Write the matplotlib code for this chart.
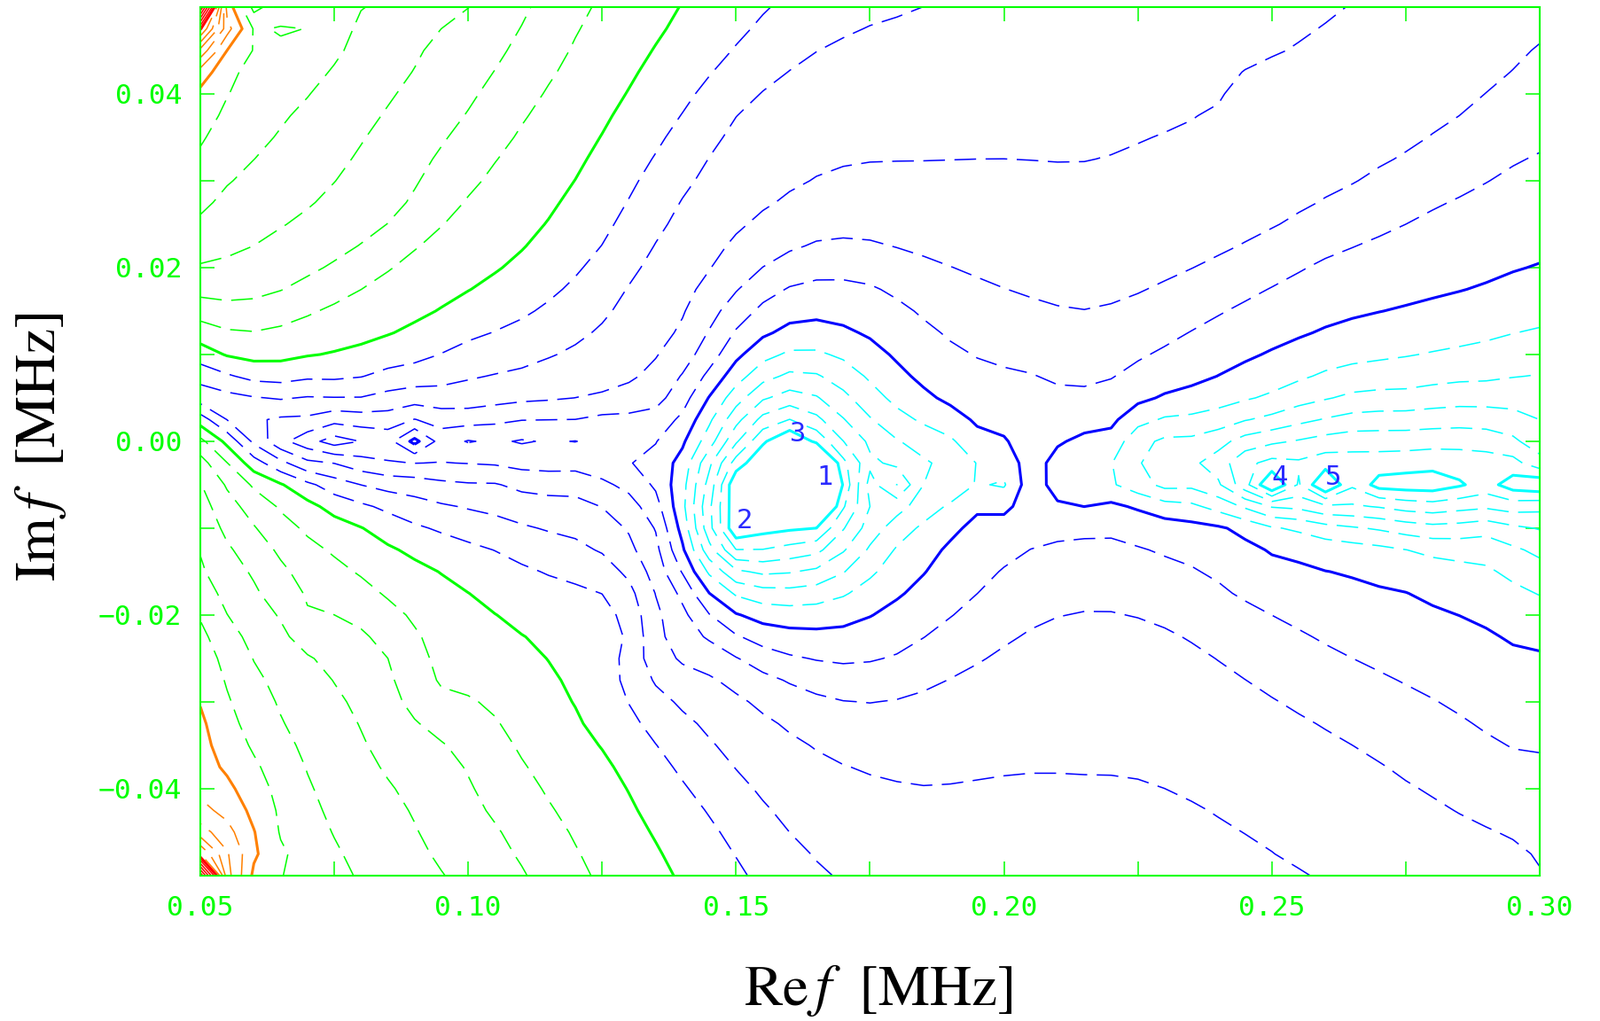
import numpy as np
import matplotlib
matplotlib.use("Agg")
import matplotlib.pyplot as plt

plt.rcParams['mathtext.fontset'] = 'stix'

GREEN = '#00ff00'
LEVEL_COLORS = ['#00ffff', '#0000ff', '#00ff00', '#ff8000', '#ff0000']

# mesh on which |D(f)| was sampled, MHz
re_grid = np.linspace(0.05, 0.30, 51)
im_grid = np.linspace(-0.05, 0.05, 41)

# labelled roots
root_re = [0.165, 0.150, 0.160, 0.250, 0.260]
root_im = [-0.005, -0.010, 0.000, -0.005, -0.005]
root_tag = ["1", "2", "3", "4", "5"]

# unlabelled roots right of root 5, and shallow dips along the trench
cluster_re = [0.270, 0.275, 0.280, 0.285, 0.295, 0.300]
cluster_im = [-0.005] * 6
shallow_re = [0.075, 0.090, 0.180, 0.200]
shallow_im = [0.000, 0.000, -0.005, -0.005]

# poles outside the left corners
pole_re = [0.0485, 0.0350, 0.0485, 0.0350]
pole_im = [0.0515, 0.0650, -0.0515, -0.0650]

# path of the dense row of roots and the nodes of its density profile
trench_re = [-0.20, 0.05, 0.065, 0.135, 0.15, 1.20]
trench_im = [0.006, 0.005, 0.000, 0.000, -0.005, -0.005]
density_re = [-0.20, -0.10, 0.00, 0.05, 0.07, 0.09, 0.11, 0.13, 0.15, 0.17, 0.19, 0.21, 0.23,
              0.25, 0.27, 0.29, 0.31, 0.35, 0.40, 0.50, 0.65, 0.85, 1.20]

# contour lines, level index: 0 = blue solid, step 1/6
cyan_solid = [(0.1602, 0.0013), (0.1552, 0.0000), (0.1524, -0.0025), (0.1499, -0.0030), (0.1480, -0.0051),
              (0.1480, -0.0101), (0.1503, -0.0116), (0.1552, -0.0105), (0.1602, -0.0101), (0.1652, -0.0103),
              (0.1678, -0.0077), (0.1703, -0.0050), (0.1698, -0.0040), (0.1678, -0.0020), (0.1648, -0.0002),
              (0.2686, -0.0048), (0.2763, -0.0041), (0.2859, -0.0049), (0.2763, -0.0053),
              (0.2922, -0.0049), (0.2949, -0.0036), (0.2957, -0.0056)]
cyan_1 = [(0.1571, 0.0100), (0.1637, 0.0105), (0.1703, 0.0093), (0.1753, 0.0066), (0.1802, 0.0036),
          (0.1869, 0.0013), (0.1908, 0.0008), (0.1925, -0.0012), (0.1925, -0.0053), (0.1891, -0.0073),
          (0.1830, -0.0101), (0.1792, -0.0124), (0.1736, -0.0165), (0.1698, -0.0179), (0.1653, -0.0186),
          (0.1604, -0.0188), (0.1554, -0.0186), (0.1504, -0.0179), (0.1471, -0.0165), (0.1445, -0.0148),
          (0.1422, -0.0128), (0.1414, -0.0104), (0.1405, -0.0081), (0.1408, -0.0053), (0.1422, -0.0015),
          (0.1450, 0.0021), (0.1483, 0.0052), (0.1516, 0.0072),
          (0.2226, -0.0001), (0.2249, 0.0017), (0.2303, 0.0027), (0.2399, 0.0036), (0.2495, 0.0054),
          (0.2591, 0.0080), (0.2768, 0.0100), (0.2861, 0.0110), (0.2927, 0.0120), (0.3000, 0.0131),
          (0.2226, -0.0038), (0.2233, -0.0054), (0.2277, -0.0057), (0.2366, -0.0067), (0.2462, -0.0085),
          (0.2558, -0.0101), (0.2641, -0.0112), (0.2696, -0.0117), (0.2752, -0.0124), (0.2806, -0.0132),
          (0.2861, -0.0138), (0.2917, -0.0148), (0.2960, -0.0165), (0.3000, -0.0178)]
cyan_2 = [(0.2259, 0.0004), (0.2386, 0.0008), (0.2489, 0.0027), (0.2596, 0.0046), (0.2750, 0.0058),
          (0.2911, 0.0068), (0.3000, 0.0078), (0.2259, -0.0044), (0.2277, -0.0054), (0.2335, -0.0059),
          (0.2399, -0.0067), (0.2462, -0.0077), (0.2526, -0.0088), (0.2911, -0.0104), (0.2972, -0.0128),
          (0.3000, -0.0135), (0.1427, -0.0050), (0.1648, 0.0079), (0.1549, -0.0167), (0.1433, -0.0111),
          (0.1466, 0.0001), (0.1891, -0.0046)]
cyan_3 = [(0.1445, -0.0050), (0.3000, 0.0027), (0.3000, -0.0103)]
cyan_4 = [(0.1463, -0.0050), (0.3000, -0.0020), (0.3000, -0.0080)]
blue_solid = [(0.1650, 0.0139), (0.1602, 0.0135), (0.1552, 0.0118), (0.1499, 0.0093), (0.1450, 0.0052),
              (0.1417, 0.0008), (0.1387, -0.0036), (0.1388, -0.0087), (0.1417, -0.0148), (0.1450, -0.0179),
              (0.1499, -0.0199), (0.1582, -0.0213), (0.1653, -0.0215), (0.1752, -0.0201), (0.1852, -0.0155),
              (0.1941, -0.0087), (0.1951, -0.0073), (0.2001, -0.0084), (0.2037, -0.0053), (0.2040, -0.0012),
              (0.2001, 0.0013), (0.1951, 0.0005), (0.1924, 0.0029), (0.1891, 0.0042), (0.1780, 0.0103),
              (0.1703, 0.0131),
              (0.2112, 0.0001), (0.2078, -0.0026), (0.2073, -0.0050), (0.2095, -0.0063), (0.2150, 0.0012),
              (0.2201, 0.0006), (0.2224, 0.0028), (0.2249, 0.0041), (0.2303, 0.0054), (0.2335, 0.0059),
              (0.2411, 0.0080), (0.2476, 0.0100), (0.2558, 0.0120), (0.2641, 0.0139), (0.2752, 0.0156),
              (0.2861, 0.0174), (0.2917, 0.0185), (0.3000, 0.0205), (0.2201, -0.0062), (0.2230, -0.0072),
              (0.2303, -0.0085), (0.2413, -0.0096), (0.2454, -0.0117), (0.2504, -0.0134), (0.2530, -0.0138),
              (0.2613, -0.0157), (0.2696, -0.0170), (0.2806, -0.0193), (0.2917, -0.0219), (0.3000, -0.0242)]
blue_1 = [(0.1450, -0.0206), (0.1499, -0.0223), (0.1549, -0.0237), (0.1615, -0.0249), (0.1698, -0.0257),
          (0.1752, -0.0254), (0.1809, -0.0244), (0.1863, -0.0220), (0.1946, -0.0179), (0.2000, -0.0145),
          (0.2040, -0.0128), (0.2145, -0.0109), (0.2199, -0.0111), (0.2249, -0.0122), (0.2299, -0.0135),
          (0.2348, -0.0145), (0.2393, -0.0162), (0.2447, -0.0183), (0.2530, -0.0209), (0.2641, -0.0247),
          (0.2752, -0.0281), (0.2861, -0.0319), (0.3000, -0.0362),
          (0.2266, 0.0100), (0.2365, 0.0134), (0.2476, 0.0171), (0.2586, 0.0209), (0.2696, 0.0236),
          (0.2806, 0.0270), (0.2917, 0.0304), (0.3000, 0.0335),
          (0.2112, 0.0062), (0.2057, 0.0080), (0.1974, 0.0090), (0.1918, 0.0108), (0.1863, 0.0134),
          (0.1814, 0.0159), (0.1752, 0.0182), (0.1693, 0.0187), (0.1653, 0.0187), (0.1599, 0.0179),
          (0.1549, 0.0161), (0.1504, 0.0134), (0.1471, 0.0100), (0.1422, 0.0059), (0.1395, 0.0029),
          (0.1380, 0.0017), (0.1350, 0.0013), (0.1284, 0.0010),
          (0.1284, -0.0019), (0.1317, -0.0033), (0.1339, -0.0050), (0.1356, -0.0066), (0.1367, -0.0087),
          (0.1378, -0.0117), (0.1400, -0.0152), (0.1428, -0.0179), (0.1466, -0.0199),
          (0.0715, 0.0005), (0.0760, 0.0006), (0.0810, 0.0005), (0.0699, -0.0002), (0.0748, -0.0007),
          (0.0810, -0.0007), (0.0859, 0.0000), (0.0897, 0.0013), (0.0935, 0.0005), (0.0897, -0.0015)]
blue_2 = [(0.1814, 0.0219), (0.1748, 0.0231), (0.1698, 0.0233), (0.1648, 0.0230), (0.1599, 0.0217),
          (0.1554, 0.0202), (0.1516, 0.0182), (0.1483, 0.0158), (0.1450, 0.0131), (0.1428, 0.0100),
          (0.1389, 0.0069), (0.1372, 0.0042), (0.1345, 0.0032), (0.1301, 0.0029),
          (0.1200, 0.0022), (0.1000, 0.0018), (0.0800, 0.0016), (0.0677, 0.0000),
          (0.0800, -0.0015), (0.1000, -0.0022), (0.1200, -0.0030),
          (0.2145, 0.0151), (0.2199, 0.0158), (0.2255, 0.0171), (0.2338, 0.0195), (0.2421, 0.0219),
          (0.2530, 0.0253), (0.2641, 0.0291), (0.2752, 0.0332), (0.2861, 0.0379), (0.2944, 0.0423),
          (0.3000, 0.0464),
          (0.1450, -0.0227), (0.1499, -0.0247), (0.1549, -0.0264), (0.1615, -0.0281), (0.1698, -0.0298),
          (0.1747, -0.0301), (0.1809, -0.0295), (0.1863, -0.0283), (0.1918, -0.0267), (0.1974, -0.0247),
          (0.2029, -0.0223), (0.2084, -0.0206), (0.2156, -0.0196), (0.2222, -0.0198), (0.2310, -0.0216),
          (0.2365, -0.0237), (0.2476, -0.0285), (0.2586, -0.0326), (0.2696, -0.0366), (0.2806, -0.0410),
          (0.2917, -0.0448), (0.3000, -0.0489),
          (0.1284, -0.0050), (0.1326, -0.0073), (0.1350, -0.0097), (0.1362, -0.0124), (0.1378, -0.0155),
          (0.1412, -0.0189)]
blue_3 = [(0.1814, 0.0322), (0.1769, 0.0322), (0.1703, 0.0316), (0.1648, 0.0304), (0.1604, 0.0287),
          (0.1554, 0.0266), (0.1521, 0.0250), (0.1483, 0.0226), (0.1450, 0.0195), (0.1417, 0.0164),
          (0.1395, 0.0131), (0.1372, 0.0110), (0.1334, 0.0087), (0.1289, 0.0062), (0.1245, 0.0052),
          (0.1190, 0.0049), (0.1134, 0.0044), (0.1079, 0.0042), (0.1024, 0.0034), (0.0968, 0.0029),
          (0.0831, 0.0024), (0.0700, 0.0022), (0.0620, 0.0015),
          (0.0750, -0.0022), (0.0900, -0.0035), (0.1050, -0.0045), (0.1200, -0.0060),
          (0.2145, 0.0321), (0.2244, 0.0342), (0.2338, 0.0368), (0.2421, 0.0396), (0.2504, 0.0437),
          (0.2586, 0.0474), (0.2636, 0.0500),
          (0.1284, -0.0094), (0.1306, -0.0121), (0.1329, -0.0155), (0.1350, -0.0189), (0.1355, -0.0237),
          (0.1450, -0.0267), (0.1700, -0.0372), (0.1847, -0.0397), (0.2000, -0.0385), (0.2145, -0.0385),
          (0.2255, -0.0390), (0.2310, -0.0403), (0.2365, -0.0420), (0.2421, -0.0439), (0.2476, -0.0461),
          (0.2530, -0.0484), (0.2570, -0.0500)]
blue_4 = [(0.1157, 0.0100), (0.1207, 0.0117), (0.1256, 0.0141), (0.1284, 0.0168), (0.1317, 0.0199),
          (0.1350, 0.0230), (0.1388, 0.0270), (0.1428, 0.0307), (0.1466, 0.0344), (0.1504, 0.0378),
          (0.1554, 0.0406), (0.1615, 0.0434), (0.1670, 0.0457), (0.1737, 0.0477), (0.1814, 0.0491),
          (0.1850, 0.0500), (0.1063, 0.0082), (0.0984, 0.0072), (0.0850, 0.0062), (0.0700, 0.0055),
          (0.0611, 0.0052), (0.0566, 0.0059), (0.0528, 0.0062),
          (0.0505, 0.0039), (0.0533, 0.0032), (0.0566, 0.0015), (0.0594, -0.0002), (0.0627, -0.0014),
          (0.0665, -0.0024), (0.0720, -0.0036), (0.0776, -0.0046), (0.0831, -0.0053), (0.0886, -0.0063),
          (0.0941, -0.0070), (0.0996, -0.0078), (0.1051, -0.0087), (0.1107, -0.0097), (0.1162, -0.0107),
          (0.1206, -0.0114), (0.1245, -0.0128), (0.1284, -0.0145), (0.1311, -0.0165),
          (0.1450, -0.0342), (0.1483, -0.0366), (0.1516, -0.0390), (0.1549, -0.0413), (0.1582, -0.0438),
          (0.1615, -0.0461), (0.1648, -0.0482), (0.1670, -0.0495)]
blue_5 = [(0.0953, 0.0103), (0.1020, 0.0120), (0.1081, 0.0134), (0.1135, 0.0154), (0.1185, 0.0179),
          (0.1218, 0.0202), (0.1251, 0.0226), (0.1284, 0.0261), (0.1317, 0.0298), (0.1355, 0.0336),
          (0.1395, 0.0373), (0.1438, 0.0410), (0.1494, 0.0451), (0.1537, 0.0482), (0.1566, 0.0500),
          (0.0505, 0.0088), (0.0533, 0.0078), (0.0555, 0.0077), (0.0599, 0.0067), (0.0665, 0.0066),
          (0.0748, 0.0069), (0.0831, 0.0077), (0.0919, 0.0090),
          (0.0500, 0.0030), (0.0600, -0.0025), (0.0750, -0.0065), (0.0900, -0.0095), (0.1050, -0.0125),
          (0.1200, -0.0165), (0.1300, -0.0220),
          (0.1450, -0.0431), (0.1472, -0.0451), (0.1494, -0.0474), (0.1516, -0.0492)]
green_solid = [(0.0500, 0.0113), (0.0546, 0.0097), (0.0603, 0.0090), (0.0657, 0.0091), (0.0776, 0.0107),
               (0.0831, 0.0117), (0.0909, 0.0139), (0.0953, 0.0154), (0.1020, 0.0180), (0.1086, 0.0210),
               (0.1147, 0.0253), (0.1223, 0.0324), (0.1284, 0.0389), (0.1350, 0.0457), (0.1395, 0.0500),
               (0.0500, 0.0023), (0.0550, -0.0002), (0.0599, -0.0026), (0.0649, -0.0046), (0.0699, -0.0063),
               (0.0748, -0.0081), (0.0798, -0.0097), (0.0847, -0.0117), (0.0914, -0.0138), (0.0985, -0.0167),
               (0.1084, -0.0214), (0.1140, -0.0250), (0.1178, -0.0281), (0.1273, -0.0372), (0.1360, -0.0471),
               (0.1384, -0.0500)]
green_7 = [(0.0500, 0.0141), (0.0535, 0.0131), (0.0584, 0.0128), (0.0644, 0.0134), (0.0694, 0.0144),
           (0.0743, 0.0158), (0.0788, 0.0171), (0.0838, 0.0192), (0.0899, 0.0222), (0.0953, 0.0250),
           (0.0986, 0.0273), (0.1020, 0.0297), (0.1053, 0.0324), (0.1086, 0.0352), (0.1119, 0.0383),
           (0.1152, 0.0413), (0.1185, 0.0447), (0.1213, 0.0481), (0.1230, 0.0500),
           (0.0649, -0.0084), (0.0682, -0.0101), (0.0720, -0.0121), (0.0760, -0.0137), (0.0803, -0.0159),
           (0.0848, -0.0183), (0.0886, -0.0202), (0.0926, -0.0267), (0.0953, -0.0291), (0.1014, -0.0291),
           (0.1047, -0.0315), (0.1085, -0.0352), (0.1125, -0.0390), (0.1163, -0.0428), (0.1208, -0.0472),
           (0.1225, -0.0500)]
green_8 = [(0.0500, 0.0164), (0.0551, 0.0159), (0.0601, 0.0163), (0.0656, 0.0174), (0.0710, 0.0192),
           (0.0766, 0.0212), (0.0821, 0.0236), (0.0876, 0.0263), (0.0953, 0.0342), (0.0986, 0.0368),
           (0.1020, 0.0399), (0.1053, 0.0430), (0.1086, 0.0460), (0.1114, 0.0498),
           (0.0698, -0.0206), (0.0753, -0.0196), (0.0809, -0.0218), (0.0859, -0.0257), (0.0898, -0.0318),
           (0.0959, -0.0347), (0.0997, -0.0380), (0.1030, -0.0424), (0.1068, -0.0451), (0.1102, -0.0492)]
green_9 = [(0.0500, 0.0206), (0.0540, 0.0209), (0.0584, 0.0219), (0.0622, 0.0236), (0.0677, 0.0256),
           (0.0733, 0.0287), (0.0788, 0.0332), (0.0842, 0.0379), (0.0899, 0.0427), (0.0953, 0.0478),
           (0.0522, -0.0087), (0.0550, -0.0114), (0.0583, -0.0138), (0.0621, -0.0183), (0.0654, -0.0203),
           (0.0698, -0.0240), (0.0748, -0.0278), (0.0786, -0.0311), (0.0814, -0.0352), (0.0842, -0.0383),
           (0.0875, -0.0407), (0.0902, -0.0441), (0.0942, -0.0485), (0.0952, -0.0500)]
green_10 = [(0.0512, 0.0270), (0.0545, 0.0291), (0.0584, 0.0314), (0.0622, 0.0338), (0.0656, 0.0365),
            (0.0700, 0.0396), (0.0743, 0.0430), (0.0788, 0.0495),
            (0.0505, -0.0152), (0.0533, -0.0179), (0.0555, -0.0206), (0.0583, -0.0234), (0.0604, -0.0260),
            (0.0632, -0.0288), (0.0649, -0.0315), (0.0670, -0.0342), (0.0694, -0.0373), (0.0710, -0.0400),
            (0.0727, -0.0424), (0.0748, -0.0455), (0.0765, -0.0479), (0.0781, -0.0500)]
green_11 = [(0.0500, 0.0340), (0.0560, 0.0400), (0.0620, 0.0460), (0.0660, 0.0500),
            (0.0505, -0.0213), (0.0533, -0.0250), (0.0550, -0.0288), (0.0570, -0.0332),
            (0.0596, -0.0356), (0.0636, -0.0413), (0.0641, -0.0458), (0.0677, -0.0500)]
orange_solid = [(0.0500, 0.0413), (0.0523, 0.0427), (0.0540, 0.0449), (0.0550, 0.0500),
                (0.0500, -0.0308), (0.0522, -0.0332), (0.0530, -0.0372), (0.0561, -0.0392), (0.0583, -0.0422),
                (0.0604, -0.0449), (0.0596, -0.0500)]
red_solid = [(0.0500, 0.0470), (0.0518, 0.0483), (0.0526, 0.0500),
             (0.0500, -0.0480), (0.0513, -0.0487), (0.0522, -0.0500)]

traces = [(-6, cyan_solid), (-1, cyan_1), (-2, cyan_2), (-3, cyan_3), (-4, cyan_4),
          (0, blue_solid), (1, blue_1), (2, blue_2), (3, blue_3), (4, blue_4), (5, blue_5),
          (6, green_solid), (7, green_7), (8, green_8), (9, green_9), (10, green_10), (11, green_11),
          (12, orange_solid), (18, red_solid)]

# values read at single mesh nodes (small loops, trench floor, frame edges, corners)
node_pts = [(0.245, -0.005, -4.8), (0.250, -0.005, -7.0), (0.255, -0.005, -5.0), (0.260, -0.005, -7.0),
            (0.265, -0.005, -5.3), (0.270, -0.005, -6.3), (0.275, -0.005, -6.6), (0.280, -0.005, -6.6),
            (0.285, -0.005, -6.1), (0.290, -0.005, -5.6), (0.295, -0.005, -6.5), (0.300, -0.005, -6.8),
            (0.180, -0.005, -4.0), (0.190, -0.005, -1.8), (0.195, -0.005, -0.9), (0.200, -0.005, -1.2),
            (0.210, -0.005, -0.49), (0.215, -0.005, -0.7), (0.220, -0.005, -0.95),
            (0.225, -0.005, -1.6), (0.230, -0.005, -2.3), (0.205, 0.000, 0.5), (0.205, -0.0075, 0.5),
            (0.090, 0.000, -0.3), (0.075, 0.000, 0.6), (0.080, 0.000, 0.9), (0.100, 0.000, 0.8),
            (0.110, 0.000, 0.9), (0.120, 0.000, 0.9), (0.070, 0.000, 1.4), (0.065, 0.000, 2.2),
            (0.050, 0.005, 3.4), (0.050, 0.050, 24.0), (0.050, -0.050, 24.0),
            (0.170, 0.050, 4.4), (0.200, 0.050, 3.6), (0.220, 0.050, 3.4), (0.240, 0.050, 3.2),
            (0.280, 0.050, 2.6), (0.300, 0.050, 2.3), (0.200, 0.040, 3.2), (0.250, 0.040, 2.6),
            (0.200, -0.050, 3.5), (0.220, -0.050, 3.4), (0.240, -0.050, 3.2), (0.280, -0.050, 2.5),
            (0.300, -0.050, 2.05), (0.180, -0.045, 3.4), (0.230, -0.045, 3.2), (0.270, -0.045, 2.4)]
# the saddle between the two basins, held tighter
saddle_pts = [(0.205, -0.005, 0.6), (0.205, -0.0025, 0.45)]

# distances measured on the page, so the two axes count alike
KX, KY = 6.044, 9.8


def to_plane(re, im):
    return (np.asarray(re, float) - 0.05) * KX, np.asarray(im, float) * KY


def logdist(X, Y, sx, sy, eps):
    return 0.5 * np.log10((X[:, None] - sx[None, :]) ** 2 + (Y[:, None] - sy[None, :]) ** 2 + eps ** 2)


row_re = np.arange(-0.20, 1.2001, 0.005)
row_im = np.interp(row_re, trench_re, trench_im)
ring_t = np.linspace(0, 2 * np.pi, 24, endpoint=False)
ring_x = 0.755 + 1.40 * np.cos(ring_t)
ring_y = 1.10 * np.sin(ring_t)


def basis(re, im):
    X, Y = to_plane(re, im)
    cols = []
    for zr, zi in ((root_re, root_im), (cluster_re, cluster_im), (shallow_re, shallow_im)):
        sx, sy = to_plane(zr, zi)
        cols.append(logdist(X, Y, sx, sy, 0.008))
    sx, sy = to_plane(row_re, row_im)
    L = logdist(X, Y, sx, sy, 0.012)
    for h in np.eye(len(density_re)):
        cols.append((L * np.interp(row_re, density_re, h)[None, :]).sum(1, keepdims=True))
    sx, sy = to_plane(pole_re, pole_im)
    cols.append(logdist(X, Y, sx, sy, 0.003))
    cols.append(logdist(X, Y, ring_x, ring_y, 0.0))
    cols.append(np.ones((len(X), 1)))
    return np.hstack(cols)


def tps(r):
    with np.errstate(divide='ignore', invalid='ignore'):
        v = r ** 2 * np.log(r)
    return np.nan_to_num(v)


p_re, p_im, p_lv, p_w = [], [], [], []
for lv, pts in traces:
    for a, b in pts:
        p_re.append(a); p_im.append(b); p_lv.append(lv); p_w.append(1.0)
for group, w in ((node_pts, 2.0), (saddle_pts, 5.0)):
    for a, b, lv in group:
        p_re.append(a); p_im.append(b); p_lv.append(lv); p_w.append(w)
p_w = np.array(p_w)
p_lv = np.array(p_lv, float)

# smooth root/pole model first ...
A = basis(p_re, p_im)
scale = A.std(0)
scale[scale == 0] = 1.0
lam = 1e-4
reg = np.sqrt(lam) * np.eye(A.shape[1])
reg[-1, -1] = 0.0
coef = np.linalg.lstsq(np.vstack([A / scale * p_w[:, None], reg]),
                       np.concatenate([p_lv * p_w, np.zeros(A.shape[1])]), rcond=None)[0] / scale

# ... then a smoothing thin-plate spline through what is left over
Xp, Yp = to_plane(p_re, p_im)
resid = p_lv - A @ coef
n = len(Xp)
K = tps(np.hypot(Xp[:, None] - Xp[None, :], Yp[:, None] - Yp[None, :])) + np.diag(4e-4 / p_w ** 2)
P = np.column_stack([np.ones(n), Xp, Yp])
M = np.block([[K, P], [P.T, np.zeros((3, 3))]])
sol = np.linalg.solve(M, np.concatenate([resid, np.zeros(3)]))

RE, IM = np.meshgrid(re_grid, im_grid)
Xg, Yg = to_plane(RE.ravel(), IM.ravel())
phi = basis(RE.ravel(), IM.ravel()) @ coef
phi += tps(np.hypot(Xg[:, None] - Xp[None, :], Yg[:, None] - Yp[None, :])) @ sol[:n]
phi += np.column_stack([np.ones(len(Xg)), Xg, Yg]) @ sol[n:]
phi = phi.reshape(RE.shape)

fig = plt.figure(figsize=(18.06, 11.52), dpi=100)
ax = fig.add_axes([0.1251, 0.1424, 0.8367, 0.8507])

levels = np.arange(-6, 25)
solid = [v for v in levels if v % 6 == 0]
dashed = [v for v in levels if v % 6 != 0]
col = lambda v: LEVEL_COLORS[min((v + 6) // 6, 4)]
ax.contour(RE, IM, phi, levels=dashed, colors=[col(v) for v in dashed],
           linewidths=1.1, linestyles=[(0, (16, 7))] * len(dashed))
ax.contour(RE, IM, phi, levels=solid, colors=[col(v) for v in solid], linewidths=2.2)

for a, b, t in zip(root_re, root_im, root_tag):
    ax.text(a, b, t, ha='left', va='baseline', color='#2a2aff', fontsize=22, family='DejaVu Sans Mono')

ax.set_xlim(0.05, 0.30)
ax.set_ylim(-0.05, 0.05)
xt = np.arange(0.05, 0.3001, 0.025)
ax.set_xticks(xt)
ax.set_xticklabels(['%.2f' % v if i % 2 == 0 else '' for i, v in enumerate(xt)])
yt = np.arange(-0.05, 0.0501, 0.01)
ax.set_yticks(yt)
ax.set_yticklabels([('%.2f' % v).replace('-', '\u2212') if i % 2 == 1 else '' for i, v in enumerate(yt)])
ax.tick_params(which='both', direction='in', length=11.5, width=1.1, color=GREEN,
               top=True, right=True, labelcolor=GREEN, labelsize=22.5)
ax.tick_params(axis='x', pad=16)
ax.tick_params(axis='y', pad=15)
for lab in ax.get_xticklabels() + ax.get_yticklabels():
    lab.set_fontfamily('DejaVu Sans Mono')
for s in ax.spines.values():
    s.set_color(GREEN)
    s.set_linewidth(1.5)

fig.text(0.5488, 0.0304, r'$\mathrm{Re}\,f\ \ [\mathrm{MHz}]$', ha='center', va='center', fontsize=47)
fig.text(0.0249, 0.562, r'$\mathrm{Im}\,f\ \ [\mathrm{MHz}]$', ha='center', va='center', fontsize=47,
         rotation=90)

fig.savefig('out.png', dpi=100)
